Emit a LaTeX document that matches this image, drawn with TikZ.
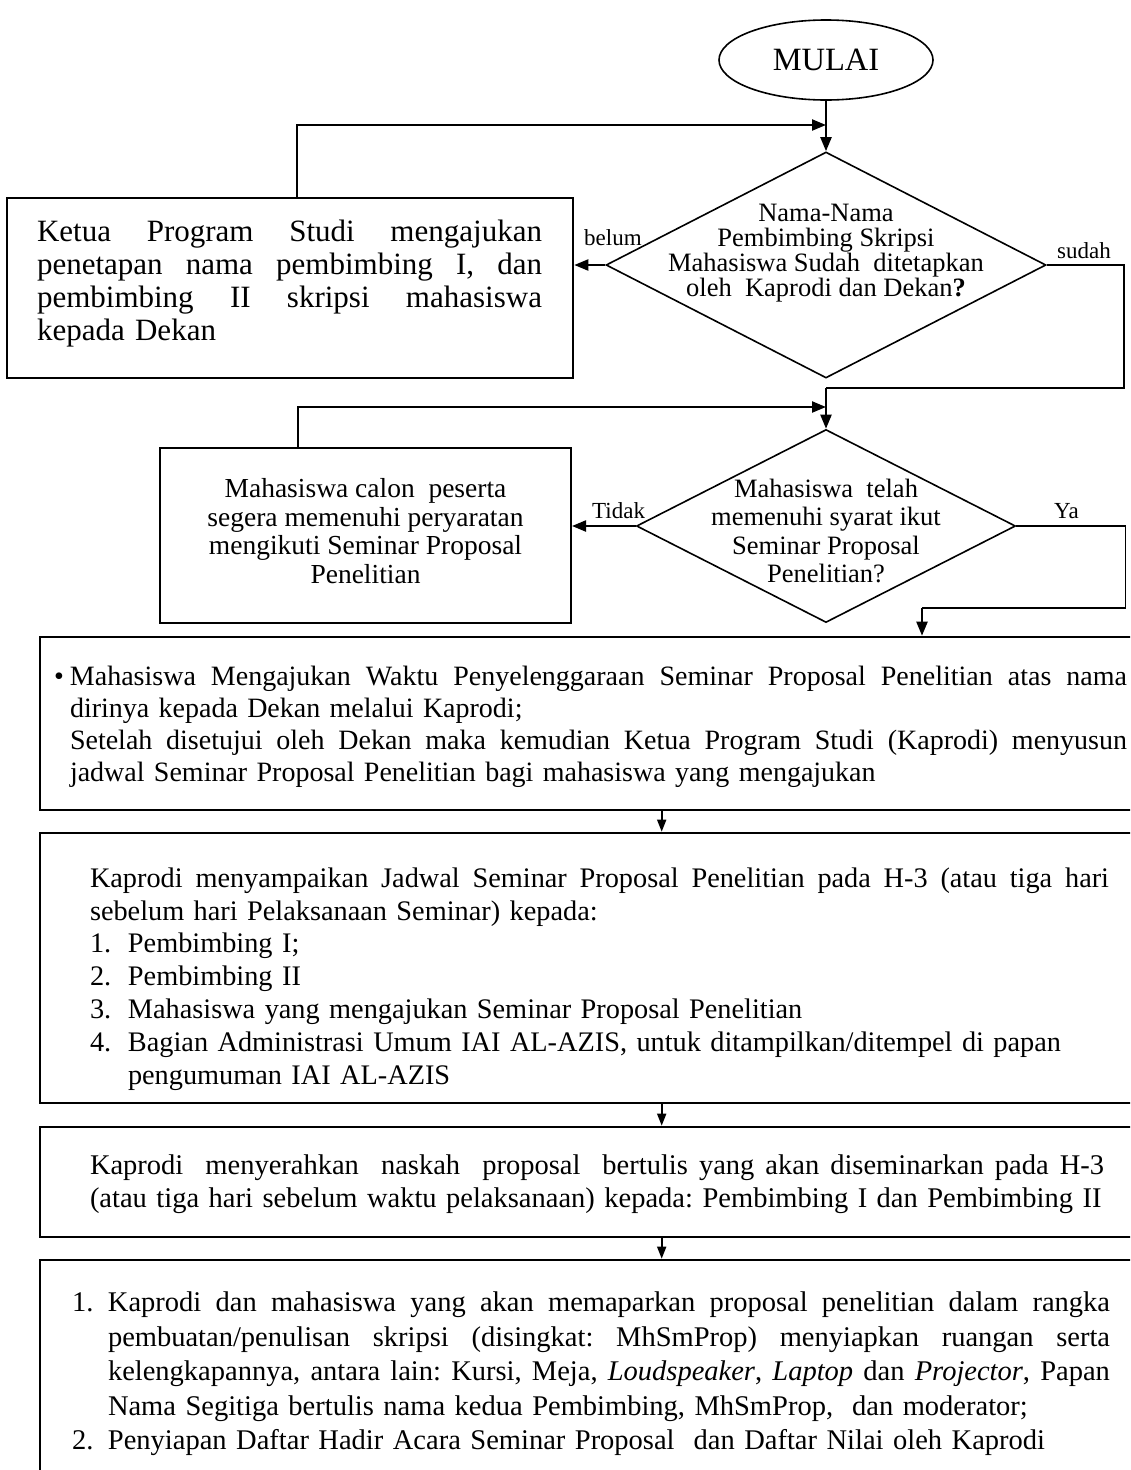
\documentclass[tikz,border=0pt]{standalone}
\usepackage{fontspec}
\setmainfont{Liberation Serif}
\usetikzlibrary{arrows.meta,shapes.geometric}
\newcommand\fsz[2]{\fontsize{#1}{#2}\selectfont}
\newcommand\jl[2]{\makebox[#1][s]{\spaceskip=.25em plus 1fil minus .05em\relax #2}}
\tikzset{
  boxthick/.style={draw, line width=2.6pt, inner sep=0pt},
  boxmid/.style={draw, line width=2pt, inner sep=0pt},
  dia/.style={draw, diamond, line width=1.6pt, inner sep=0pt},
  txt/.style={inner sep=0pt, align=left},
  ctxt/.style={inner sep=0pt, align=center},
  lbl/.style={inner sep=0pt, anchor=base west, font=\fsz{23}{25}},
  arr/.style={-{Triangle[length=14pt,width=11pt]}, line width=2.2pt},
  arrs/.style={-{Triangle[length=12pt,width=9pt]}, line width=1.6pt},
  thinline/.style={line width=1.4pt}
}
\begin{document}
\frenchspacing
\begin{tikzpicture}[x=1pt,y=-1pt]
\useasboundingbox (0,0) rectangle (1130,1470);
\clip (0,0) rectangle (1130,1470);

% start
\node[draw, ellipse, line width=1.6pt, minimum width=214pt, minimum height=80pt, inner sep=0pt, font=\fsz{32.5}{34}] (mulai) at (826,60) {MULAI};

% decision 1
\node[dia, minimum width=440pt, minimum height=226pt] (d1) at (826,265) {};
\node[ctxt, font=\fsz{26.5}{25}] (d1t) at (826,253) {Nama-Nama\\Pembimbing Skripsi\\Mahasiswa Sudah\ \ ditetapkan\\oleh\ \ Kaprodi dan Dekan\textbf{?}};

% Ketua box
\node[boxthick, minimum width=566pt, minimum height=180pt] (ketua) at (290,288) {};
\node[txt, text width=505pt, font=\fsz{31}{33}] (ketuat) at (289.5,284) {%
\jl{505pt}{Ketua Program Studi mengajukan}\\
\jl{505pt}{penetapan nama pembimbing I, dan}\\
\jl{505pt}{pembimbing II skripsi mahasiswa}\\
kepada Dekan};

\coordinate (m1) at (826,125);
\draw[arr] ([xshift=7pt]ketua.north) |- (m1);
\draw[arr] (mulai.south) -- (d1.north);
\draw[arr] (d1.west) -- (d1.west -| ketua.east);
\node[lbl] (belum) at (584,245) {belum};
\node[lbl] (sudah) at (1057,258) {sudah};

\coordinate (j1) at (826,388);
\draw[thinline] (d1.east) -- ++(77,0) |- (j1);

% decision 2
\node[dia, minimum width=379pt, minimum height=193pt] (d2) at (826,526) {};
\node[ctxt, font=\fsz{26.5}{28.5}] (d2t) at (826,531) {Mahasiswa\ \ telah\\memenuhi syarat ikut\\Seminar Proposal\\Penelitian?};
\draw[arr] (j1) -- (d2.north);

% left box 2
\node[boxmid, minimum width=411pt, minimum height=175pt] (left2) at (365.5,535.5) {};
\node[ctxt, font=\fsz{27.5}{28.5}] (left2t) at (365.5,531) {Mahasiswa calon\ \ peserta\\segera memenuhi peryaratan\\mengikuti Seminar Proposal\\Penelitian};

\coordinate (m2) at (826,407);
\draw[arr] ([xshift=-67.5pt]left2.north) |- (m2);
\draw[arr] (d2.west) -- (d2.west -| left2.east);
\node[lbl] (tidak) at (592,518) {Tidak};
\node[lbl] (ya) at (1054,518) {Ya};

\coordinate (j2) at (922,608);
\draw[thinline] (d2.east) -- ++(109,0) |- (j2);

% wide box 1
\node[boxthick, minimum width=1105pt, minimum height=173pt] (w1) at (592.5,723.5) {};
\node[txt, text width=1073pt, font=\fsz{28}{32}] (w1t) at (590.5,727) {%
\makebox[16pt][l]{\textbullet}\jl{1057pt}{Mahasiswa Mengajukan Waktu Penyelenggaraan Seminar Proposal Penelitian atas nama}\\
\hspace*{16pt}dirinya kepada Dekan melalui Kaprodi;\\
\hspace*{16pt}\jl{1057pt}{Setelah disetujui oleh Dekan maka kemudian Ketua Program Studi (Kaprodi) menyusun}\\
\hspace*{16pt}jadwal Seminar Proposal Penelitian bagi mahasiswa yang mengajukan};
\draw[arr] (j2) -- (j2 |- w1.north);

% wide box 2
\node[boxthick, minimum width=1105pt, minimum height=270pt] (w2) at (592.5,968) {};
\node[txt, text width=1019pt, font=\fsz{28.3}{32.8}] (w2t) at (599.5,979) {%
\jl{1019pt}{Kaprodi menyampaikan Jadwal Seminar Proposal Penelitian pada H-3 (atau tiga hari}\\
sebelum hari Pelaksanaan Seminar) kepada:\\
\makebox[38pt][l]{1.}Pembimbing I;\\
\makebox[38pt][l]{2.}Pembimbing II\\
\makebox[38pt][l]{3.}Mahasiswa yang mengajukan Seminar Proposal Penelitian\\
\makebox[38pt][l]{4.}Bagian Administrasi Umum IAI AL-AZIS, untuk ditampilkan/ditempel di papan\\
\hspace*{38pt}pengumuman IAI AL-AZIS};
\draw[arrs] ([xshift=623pt]w1.south west) -- ([xshift=623pt]w2.north west);

% wide box 3
\node[boxthick, minimum width=1105pt, minimum height=110pt] (w3) at (592.5,1182) {};
\node[txt, text width=1014pt, font=\fsz{28.5}{33}] (w3t) at (597,1184) {%
\jl{1014pt}{Kaprodi\ \ menyerahkan\ \ naskah\ \ proposal\ \ bertulis yang akan diseminarkan pada H-3}\\
(atau tiga hari sebelum waktu pelaksanaan) kepada: Pembimbing I dan Pembimbing II};
\draw[arrs] ([xshift=623pt]w2.south west) -- ([xshift=623pt]w3.north west);

% wide box 4
\node[boxthick, minimum width=1105pt, minimum height=260pt] (w4) at (592.5,1390) {};
\node[txt, text width=1038pt, font=\fsz{28.5}{34.5}] (w4t) at (591,1374) {%
\makebox[36pt][l]{1.}\jl{1002pt}{Kaprodi dan mahasiswa yang akan memaparkan proposal penelitian dalam rangka}\\
\hspace*{36pt}\jl{1002pt}{pembuatan/penulisan skripsi (disingkat: MhSmProp) menyiapkan ruangan serta}\\
\hspace*{36pt}\jl{1002pt}{kelengkapannya, antara lain: Kursi, Meja, \textit{Loudspeaker}, \textit{Laptop} dan \textit{Projector}, Papan}\\
\hspace*{36pt}Nama Segitiga bertulis nama kedua Pembimbing, MhSmProp,\ \ dan moderator;\\
\makebox[36pt][l]{2.}Penyiapan Daftar Hadir Acara Seminar Proposal\ \ dan Daftar Nilai oleh Kaprodi};
\draw[arrs] ([xshift=623pt]w3.south west) -- ([xshift=623pt]w4.north west);
\end{tikzpicture}
\end{document}
